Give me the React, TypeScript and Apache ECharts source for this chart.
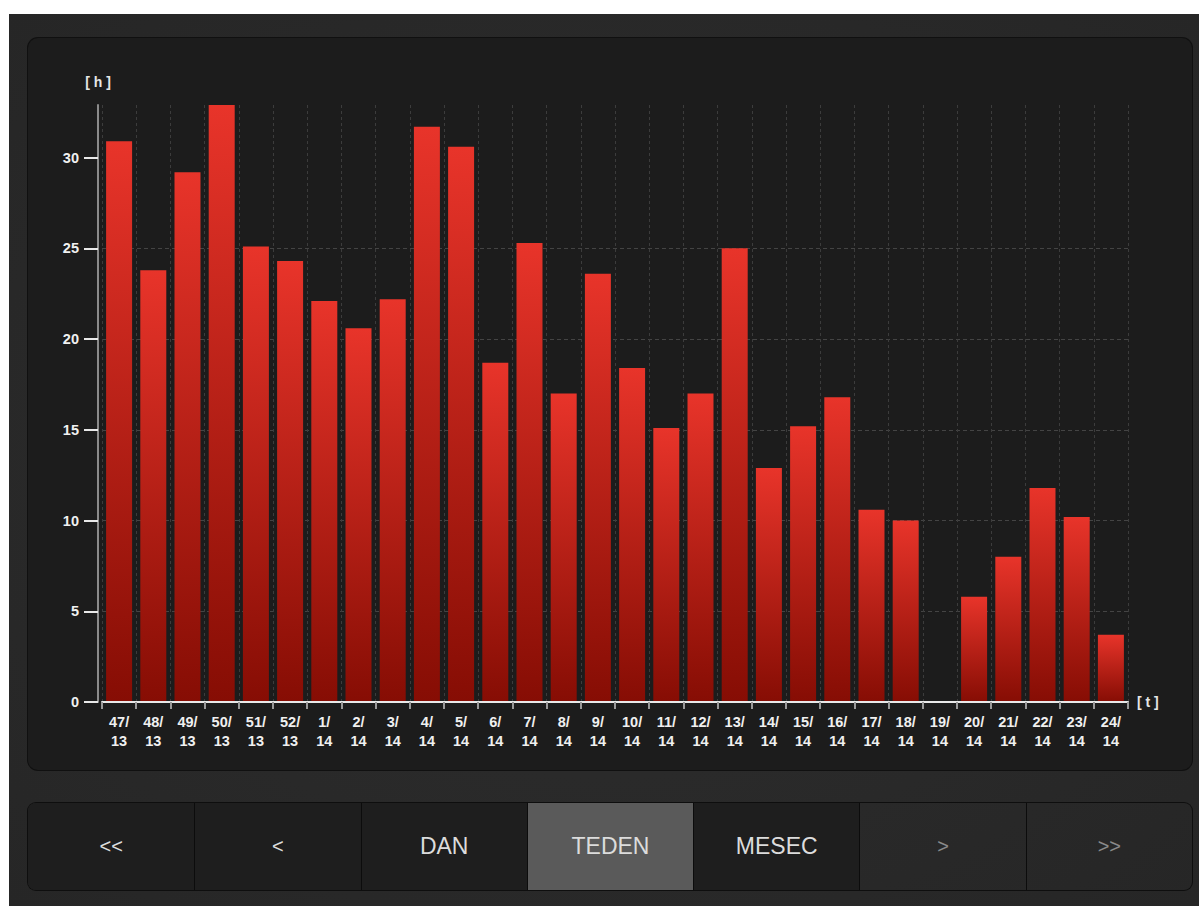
import React, { useEffect, useRef } from "react";
import * as echarts from "echarts";

const weeks: string[] = [
  "47/\n13", "48/\n13", "49/\n13", "50/\n13", "51/\n13", "52/\n13",
  "1/\n14", "2/\n14", "3/\n14", "4/\n14", "5/\n14", "6/\n14", "7/\n14",
  "8/\n14", "9/\n14", "10/\n14", "11/\n14", "12/\n14", "13/\n14", "14/\n14",
  "15/\n14", "16/\n14", "17/\n14", "18/\n14", "19/\n14", "20/\n14", "21/\n14",
  "22/\n14", "23/\n14", "24/\n14",
];
const hours: number[] = [
  30.9, 23.8, 29.2, 32.9, 25.1, 24.3, 22.1, 20.6, 22.2, 31.7, 30.6, 18.7, 25.3,
  17.0, 23.6, 18.4, 15.1, 17.0, 25.0, 12.9, 15.2, 16.8, 10.6, 10.0, 0, 5.8, 8.0,
  11.8, 10.2, 3.7,
];
const yTicks: number[] = [0, 5, 10, 15, 20, 25, 30];
const buttons: string[] = ["<<", "<", "DAN", "TEDEN", "MESEC", ">", ">>"];
const activeButton = "TEDEN";
const dimButtons: string[] = [">", ">>"];

function Chart() {
  const ref = useRef<HTMLDivElement>(null);
  useEffect(() => {
    if (!ref.current) return;
    const chart = echarts.init(ref.current, undefined, { renderer: "svg" });
    const font = "'Liberation Sans', Arial, sans-serif";
    chart.setOption({
      animation: false,
      backgroundColor: "transparent",
      grid: { left: 74, top: 67, right: 64, bottom: 68, containLabel: false },
      xAxis: {
        type: "category",
        data: weeks,
        boundaryGap: true,
        z: 5,
        name: "[ t ]",
        nameLocation: "end",
        nameGap: 9,
        nameTextStyle: { color: "#e6e6e6", fontSize: 14, fontWeight: "bold", fontFamily: font },
        axisLine: { show: true, lineStyle: { color: "#e8e8e8", width: 2 } },
        axisTick: { show: true, length: 7, lineStyle: { color: "#9a9a9a", width: 2 } },
        axisLabel: {
          color: "#f0f0f0",
          fontSize: 14.5,
          fontWeight: "bold",
          fontFamily: font,
          lineHeight: 19,
          margin: 10,
          interval: 0,
        },
        splitLine: { show: true, lineStyle: { color: "#3c3c3c", type: [3, 3], width: 1 } },
      },
      yAxis: {
        type: "value",
        min: 0,
        max: "dataMax",
        interval: 5,
        offset: 4,
        name: "[ h ]",
        nameLocation: "end",
        nameGap: 16,
        nameTextStyle: { color: "#e6e6e6", fontSize: 14, fontWeight: "bold", fontFamily: font, align: "center" },
        axisLine: { show: true, lineStyle: { color: "#8a8a8a", width: 2 } },
        axisTick: { show: true, length: 14, customValues: yTicks, lineStyle: { color: "#e8e8e8", width: 2 } },
        axisLabel: {
          color: "#f0f0f0",
          fontSize: 14.5,
          fontWeight: "bold",
          fontFamily: font,
          margin: 19,
          customValues: yTicks,
        },
        splitLine: { show: true, showMaxLine: false, showMinLine: false, lineStyle: { color: "#444444", type: [4, 3], width: 1 } },
      },
      series: [
        {
          type: "bar",
          data: hours,
          barCategoryGap: "24%",
          itemStyle: {
            color: new echarts.graphic.LinearGradient(0, 0, 0, 1, [
              { offset: 0, color: "#e8342a" },
              { offset: 1, color: "#860d04" },
            ]),
          },
        },
      ],
    });
    return () => chart.dispose();
  }, []);
  return <div ref={ref} style={{ position: "absolute", left: 0, top: 0, width: 1164, height: 732 }} />;
}

export default function App() {
  const btnW = 1164 / 7;
  return (
    <div
      style={{
        position: "absolute",
        left: 9,
        top: 14,
        width: 1190,
        height: 892,
        background: "radial-gradient(ellipse at center, #2e2e2e 0%, #262626 100%)",
        overflow: "hidden",
      }}
    >
      <div
        style={{
          position: "absolute",
          left: 19,
          top: 24,
          width: 1164,
          height: 732,
          background: "#1c1c1c",
          borderRadius: 10,
          boxShadow: "0 0 0 1px #101010",
        }}
      >
        <Chart />
      </div>
      <div
        style={{
          position: "absolute",
          left: 19,
          top: 789,
          width: 1164,
          height: 87,
          borderRadius: 8,
          boxShadow: "0 0 0 1px #0e0e0e",
          overflow: "hidden",
          display: "flex",
        }}
      >
        {buttons.map((b, i) => {
          const active = b === activeButton;
          const dim = dimButtons.includes(b);
          return (
            <div
              key={i}
              style={{
                width: btnW,
                height: 87,
                boxSizing: "border-box",
                borderLeft: i === 0 ? "none" : "1px solid #0c0c0c",
                background: active ? "#5a5a5a" : dim ? "transparent" : "#1e1e1e",
                color: dim ? "#8a8a8a" : "#dcdcdc",
                fontFamily: "'Liberation Sans', Arial, sans-serif",
                fontSize: b.length > 2 ? 23 : 20,
                display: "flex",
                alignItems: "center",
                justifyContent: "center",
              }}
            >
              {b}
            </div>
          );
        })}
      </div>
    </div>
  );
}
